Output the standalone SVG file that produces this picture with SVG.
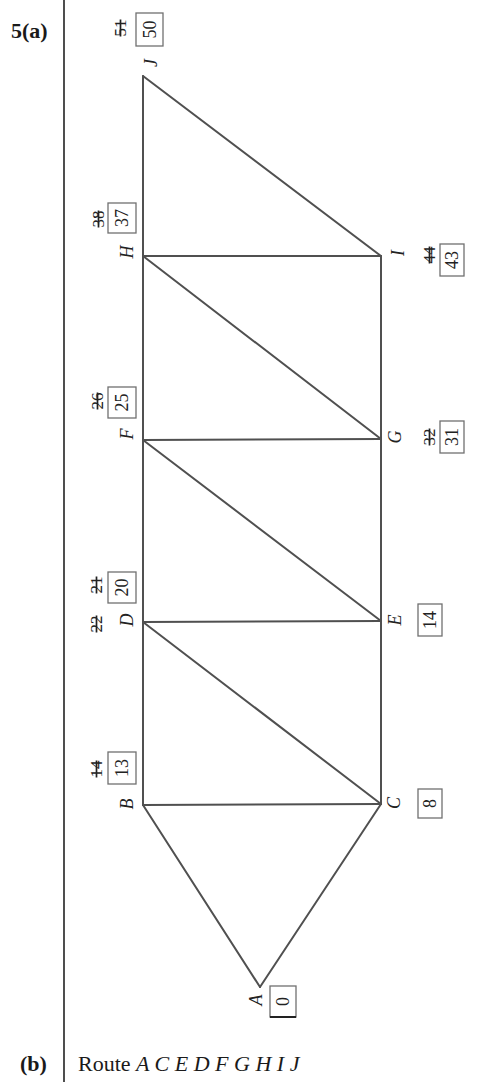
<svg xmlns="http://www.w3.org/2000/svg" width="477" height="1082" viewBox="0 0 477 1082">
<style>
.edge{stroke:#505050;stroke-width:2;fill:none;stroke-linecap:round}
.box{fill:none;stroke:#707070;stroke-width:1.3}
.lbl{font-family:"Liberation Serif",serif;font-style:italic;font-size:18px;fill:#222}
.num{font-family:"Liberation Serif",serif;font-size:18px;fill:#222}
.old{font-family:"Liberation Serif",serif;font-size:17px;fill:#222;text-decoration:line-through}
.head{font-family:"Liberation Serif",serif;font-weight:bold;font-size:22px;fill:#1a1a1a}
.route{font-family:"Liberation Serif",serif;font-size:22px;fill:#1a1a1a}
</style>
<rect width="477" height="1082" fill="#fff"/>
<line x1="64" y1="0" x2="64" y2="1082" stroke="#222" stroke-width="1.6"/>
<text class="head" x="11" y="38">5(a)</text>
<text class="head" x="20" y="1071">(b)</text>
<text class="route" x="78" y="1071">Route <tspan font-style="italic">A C E D F G H I J</tspan></text>
<g id="connectors">
<line class="edge" x1="143" y1="76" x2="143" y2="805"/>
<line class="edge" x1="381" y1="256" x2="381" y2="804"/>
<line class="edge" x1="143" y1="76" x2="381" y2="256"/>
<line class="edge" x1="143" y1="256" x2="381" y2="256"/>
<line class="edge" x1="143" y1="256" x2="381" y2="439"/>
<line class="edge" x1="143" y1="440" x2="381" y2="439"/>
<line class="edge" x1="143" y1="440" x2="381" y2="621"/>
<line class="edge" x1="143" y1="622" x2="381" y2="621"/>
<line class="edge" x1="143" y1="622" x2="381" y2="804"/>
<line class="edge" x1="143" y1="805" x2="381" y2="804"/>
<line class="edge" x1="143" y1="805" x2="260" y2="987"/>
<line class="edge" x1="381" y1="804" x2="260" y2="987"/>
</g>
<g id="node-J">
<text class="lbl" transform="translate(151,63) rotate(-90)" text-anchor="middle" dominant-baseline="central">J</text>
<rect class="box" x="136" y="13" width="27" height="33"/>
<text class="num" transform="translate(149.5,29.5) rotate(-90)" text-anchor="middle" dominant-baseline="central">50</text>
<text class="old" transform="translate(120,28) rotate(-90)" text-anchor="middle" dominant-baseline="central">51</text>
</g>
<g id="node-H">
<text class="lbl" transform="translate(127,252) rotate(-90)" text-anchor="middle" dominant-baseline="central">H</text>
<rect class="box" x="108" y="203" width="28" height="30"/>
<text class="num" transform="translate(122,218) rotate(-90)" text-anchor="middle" dominant-baseline="central">37</text>
<text class="old" transform="translate(98,219) rotate(-90)" text-anchor="middle" dominant-baseline="central">38</text>
</g>
<g id="node-F">
<text class="lbl" transform="translate(127,434) rotate(-90)" text-anchor="middle" dominant-baseline="central">F</text>
<rect class="box" x="108" y="387" width="28" height="31"/>
<text class="num" transform="translate(122,402.5) rotate(-90)" text-anchor="middle" dominant-baseline="central">25</text>
<text class="old" transform="translate(97,401) rotate(-90)" text-anchor="middle" dominant-baseline="central">26</text>
</g>
<g id="node-D">
<text class="lbl" transform="translate(127,620) rotate(-90)" text-anchor="middle" dominant-baseline="central">D</text>
<rect class="box" x="108" y="572" width="28" height="31"/>
<text class="num" transform="translate(122,587.5) rotate(-90)" text-anchor="middle" dominant-baseline="central">20</text>
<text class="old" transform="translate(96,585) rotate(-90)" text-anchor="middle" dominant-baseline="central">21</text>
<text class="old" transform="translate(96,624) rotate(-90)" text-anchor="middle" dominant-baseline="central">22</text>
</g>
<g id="node-B">
<text class="lbl" transform="translate(127,804) rotate(-90)" text-anchor="middle" dominant-baseline="central">B</text>
<rect class="box" x="108" y="752" width="28" height="32"/>
<text class="num" transform="translate(122,768) rotate(-90)" text-anchor="middle" dominant-baseline="central">13</text>
<text class="old" transform="translate(96,769) rotate(-90)" text-anchor="middle" dominant-baseline="central">14</text>
</g>
<g id="node-I">
<text class="lbl" transform="translate(398,253) rotate(-90)" text-anchor="middle" dominant-baseline="central">I</text>
<text class="old" transform="translate(429,255) rotate(-90)" text-anchor="middle" dominant-baseline="central">44</text>
<rect class="box" x="440" y="244" width="24" height="32"/>
<text class="num" transform="translate(452,260) rotate(-90)" text-anchor="middle" dominant-baseline="central">43</text>
</g>
<g id="node-G">
<text class="lbl" transform="translate(395,437) rotate(-90)" text-anchor="middle" dominant-baseline="central">G</text>
<text class="old" transform="translate(429,437) rotate(-90)" text-anchor="middle" dominant-baseline="central">32</text>
<rect class="box" x="440" y="421" width="24" height="32"/>
<text class="num" transform="translate(452,437) rotate(-90)" text-anchor="middle" dominant-baseline="central">31</text>
</g>
<g id="node-E">
<text class="lbl" transform="translate(395,620) rotate(-90)" text-anchor="middle" dominant-baseline="central">E</text>
<rect class="box" x="418" y="604" width="24" height="32"/>
<text class="num" transform="translate(430,620) rotate(-90)" text-anchor="middle" dominant-baseline="central">14</text>
</g>
<g id="node-C">
<text class="lbl" transform="translate(394,803) rotate(-90)" text-anchor="middle" dominant-baseline="central">C</text>
<rect class="box" x="418" y="789" width="24" height="29"/>
<text class="num" transform="translate(430,803.5) rotate(-90)" text-anchor="middle" dominant-baseline="central">8</text>
</g>
<g id="node-A">
<text class="lbl" transform="translate(256,1000) rotate(-90)" text-anchor="middle" dominant-baseline="central">A</text>
<rect class="box" x="270" y="986" width="26" height="31"/>
<line x1="270" y1="1017" x2="296" y2="1017" stroke="#222" stroke-width="2"/>
<text class="num" transform="translate(283,1001.5) rotate(-90)" text-anchor="middle" dominant-baseline="central">0</text>
</g>
</svg>
